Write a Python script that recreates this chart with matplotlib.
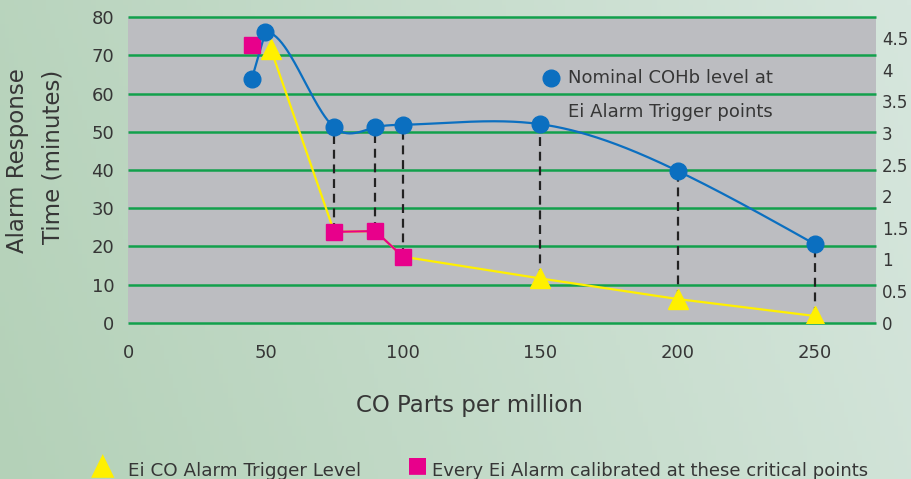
import numpy as np
import matplotlib.pyplot as plt

# CO ppm
blue_x = [45, 50, 75, 90, 100, 150, 200, 250]
# nominal COHb level (%) - right axis
blue_y = [3.85, 4.60, 3.09, 3.09, 3.13, 3.14, 2.40, 1.24]

tri_x = [52, 75, 90, 100, 150, 200, 250]
tri_y = [71.6, 23.8, 24.0, 17.3, 11.6, 6.2, 1.75]
tri_marks = [52, 150, 200, 250]
tri_marks_y = [71.6, 11.6, 6.2, 1.75]

sq_x = [75, 90, 100]
sq_y = [23.8, 24.0, 17.3]
sq_lone_x = [45]
sq_lone_y = [72.7]

drop_x = [75, 90, 100, 150, 200, 250]
drop_low = [23.8, 24.0, 17.3, 11.6, 6.2, 1.75]

left_ticks = [0, 10, 20, 30, 40, 50, 60, 70, 80]
right_ticks = [0, 0.5, 1, 1.5, 2, 2.5, 3, 3.5, 4, 4.5]
right_labels = ["0", "0.5", "1", "1.5", "2", "2.5", "3", "3.5", "4", "4.5"]
x_ticks = [0, 50, 100, 150, 200, 250]

LEFT_MAX = 80
RIGHT_MAX = 4.83

BLUE = "#0b6fc0"
PINK = "#e8008b"
YELLOW = "#fff000"
GREEN = "#12a04c"
TXT = "#363636"


def spline(x, y, xs, s0=0.0):
    # cubic spline, clamped slope at start, natural at end
    x = np.asarray(x, float)
    y = np.asarray(y, float)
    n = len(x)
    h = np.diff(x)
    A = np.zeros((n, n))
    b = np.zeros(n)
    A[0, 0] = 2 * h[0]
    A[0, 1] = h[0]
    b[0] = 3 * ((y[1] - y[0]) / h[0] - s0)
    A[-1, -1] = 1
    for i in range(1, n - 1):
        A[i, i - 1] = h[i - 1]
        A[i, i] = 2 * (h[i - 1] + h[i])
        A[i, i + 1] = h[i]
        b[i] = 3 * ((y[i + 1] - y[i]) / h[i] - (y[i] - y[i - 1]) / h[i - 1])
    c = np.linalg.solve(A, b)
    bb = (y[1:] - y[:-1]) / h - h * (c[1:] + 2 * c[:-1]) / 3
    d = (c[1:] - c[:-1]) / (3 * h)
    out = []
    for v in xs:
        i = min(max(np.searchsorted(x, v) - 1, 0), n - 2)
        t = v - x[i]
        out.append(y[i] + bb[i] * t + c[i] * t ** 2 + d[i] * t ** 3)
    return np.array(out)


fig = plt.figure(figsize=(9.12, 4.79), dpi=100)

# background gradient
bg = fig.add_axes((0, 0, 1, 1), zorder=-5)
gx = np.linspace(0, 1, 200)
gy = np.linspace(0, 1, 100)
GX, GY = np.meshgrid(gx, gy)
c_left = np.array([180, 209, 184]) / 255
c_right = np.array([214, 230, 221]) / 255
mix = (GX * 0.85 + (1 - GY) * 0.15)[..., None]
img = c_left * (1 - mix) + c_right * mix
bg.imshow(img, aspect="auto", extent=(0, 1, 0, 1))
bg.axis("off")

ax = fig.add_axes((0.1404, 0.3263, 0.8196, 0.6376))
ax.set_facecolor("#bcbdc1")
ax.set_xlim(0, 272)
ax.set_ylim(0, LEFT_MAX)
for s in ax.spines.values():
    s.set_visible(False)
ax.hlines(left_ticks, 0, 272, colors=GREEN, linewidth=1.8, clip_on=False, zorder=1)

ax.set_yticks(left_ticks)
ax.set_xticks(x_ticks)
ax.tick_params(axis="y", length=0, pad=10, labelsize=13, labelcolor=TXT)
ax.tick_params(axis="x", length=0, pad=15, labelsize=13, labelcolor=TXT)

ax2 = ax.twinx()
ax2.set_ylim(0, RIGHT_MAX)
for s in ax2.spines.values():
    s.set_visible(False)
ax2.set_yticks(right_ticks)
ax2.set_yticklabels(right_labels)
ax2.tick_params(axis="y", length=0, pad=4.5, labelsize=12, labelcolor=TXT)

k = LEFT_MAX / RIGHT_MAX
by = np.array(blue_y) * k

# dashed drop lines
blue_at = dict(zip(blue_x, by))
ax.vlines(drop_x, drop_low, [blue_at[v] for v in drop_x], colors="#222222",
          linewidth=1.6, linestyles=(0, (4, 2.6)), zorder=3)

# blue curve
ax.plot(blue_x[:2], by[:2], color=BLUE, linewidth=1.6, zorder=4)
xs = np.linspace(blue_x[1], blue_x[-1], 400)
ax.plot(xs, spline(blue_x[1:], by[1:], xs), color=BLUE, linewidth=1.6, zorder=4)

# yellow and pink
ax.plot(tri_x, tri_y, color=YELLOW, linewidth=1.6, zorder=5)
ax.plot(sq_x, sq_y, color=PINK, linewidth=1.6, zorder=5)
ax.plot(tri_marks, tri_marks_y, linestyle="none", marker="^", markersize=15,
        color=YELLOW, zorder=6)
ax.plot(sq_x + sq_lone_x, sq_y + sq_lone_y, linestyle="none", marker="s",
        markersize=11, color=PINK, zorder=6)
ax.plot(blue_x, by, linestyle="none", marker="o", markersize=12, color=BLUE, zorder=7)

# in-plot legend
ax.plot([154], [64.2], marker="o", markersize=12, color=BLUE, clip_on=False)
ax.text(160, 64.2, "Nominal COHb level at", fontsize=13, color=TXT, va="center")
ax.text(160, 55.3, "Ei Alarm Trigger points", fontsize=13, color=TXT, va="center")

# axis labels
fig.text(0.019, 0.664, "Alarm Response", rotation=90, fontsize=16.5, color=TXT,
         ha="center", va="center")
fig.text(0.058, 0.672, "Time (minutes)", rotation=90, fontsize=16.5, color=TXT,
         ha="center", va="center")
fig.text(0.515, 0.153, "CO Parts per million", fontsize=16.5, color=TXT,
         ha="center", va="center")

# bottom legend
fig.text(0.113, 0.028, "\u25B2", fontsize=22, color=YELLOW, ha="center", va="center")
fig.text(0.14, 0.016, "Ei CO Alarm Trigger Level", fontsize=13.2, color=TXT,
         ha="left", va="center")
fig.text(0.458, 0.028, "\u25A0", fontsize=16, color=PINK, ha="center", va="center")
fig.text(0.474, 0.016, "Every Ei Alarm calibrated at these critical points",
         fontsize=13, color=TXT, ha="left", va="center")

fig.savefig("out.png", dpi=100)
